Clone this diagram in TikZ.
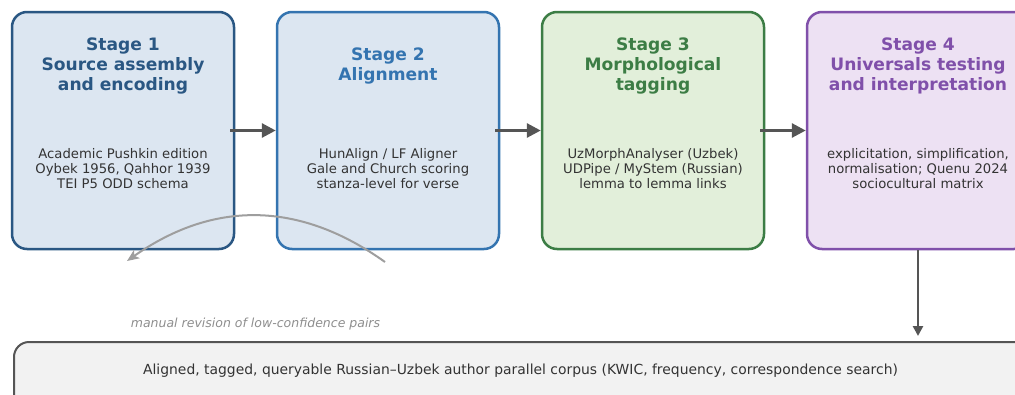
\documentclass[tikz,border=0pt]{standalone}
\usepackage{fontspec}
\setmainfont{DejaVu Sans}
\usetikzlibrary{arrows.meta,positioning,calc}

\definecolor{oneline}{HTML}{2A5783}
\definecolor{onefill}{HTML}{DCE6F1}
\definecolor{twoline}{HTML}{3474B0}
\definecolor{twofill}{HTML}{DCE6F1}
\definecolor{threeline}{HTML}{3C7D45}
\definecolor{threefill}{HTML}{E2EFDA}
\definecolor{fourline}{HTML}{8050AA}
\definecolor{fourfill}{HTML}{EDE1F3}
\definecolor{bodytext}{HTML}{333333}
\definecolor{flowgray}{HTML}{555555}
\definecolor{loopgray}{HTML}{9E9E9E}
\definecolor{outfill}{HTML}{F2F2F2}

\tikzset{
  stagebox/.style={draw, line width=2.5pt, rounded corners=15pt,
    minimum width=222pt, minimum height=237pt, inner sep=0pt},
  stagetitle/.style={font=\fontsize{17.1}{20}\selectfont\bfseries, align=center, inner sep=0pt},
  stagebody/.style={font=\fontsize{13.2}{15}\selectfont, text=bodytext, align=center, inner sep=0pt},
  flow/.style={draw=flowgray, line width=3pt, -{Triangle[length=14pt,width=14pt]}},
  downflow/.style={draw=flowgray, line width=2.5pt, -{Triangle[length=10pt,width=10pt]}},
  loop/.style={draw=loopgray, line width=2pt, -{Stealth[length=12pt,width=10pt,inset=3pt]}},
}

\begin{document}
\begin{tikzpicture}[x=1pt,y=-1pt]
\useasboundingbox (0,0) rectangle (1015,394);

% the four stages
\node[stagebox, draw=oneline, fill=onefill] (s1) at (123,130.5) {};
\node[stagebox, draw=twoline, fill=twofill] (s2) at (388,130.5) {};
\node[stagebox, draw=threeline, fill=threefill] (s3) at (653,130.5) {};
\node[stagebox, draw=fourline, fill=fourfill] (s4) at (918,130.5) {};

\node[stagetitle, text=oneline] (t1) at (123,65.5) {Stage 1\\Source assembly\\and encoding};
\node[stagetitle, text=twoline] (t2) at (388,65.5) {Stage 2\\Alignment};
\node[stagetitle, text=threeline] (t3) at (653,65.5) {Stage 3\\Morphological\\tagging};
\node[stagetitle, text=fourline] (t4) at (918,65.5) {Stage 4\\Universals testing\\and interpretation};

\node[stagebody] (b1) at (123,168.5) {Academic Pushkin edition\\Oybek 1956, Qahhor 1939\\TEI P5 ODD schema};
\node[stagebody] (b2) at (388,168.5) {HunAlign / LF Aligner\\Gale and Church scoring\\stanza-level for verse};
\node[stagebody] (b3) at (653,168.5) {UzMorphAnalyser (Uzbek)\\UDPipe / MyStem (Russian)\\lemma to lemma links};
\node[stagebody] (b4) at (918,168.5) {explicitation, simplification,\\normalisation; Quenu 2024\\sociocultural matrix};

% resulting corpus
\node[draw=flowgray, line width=2pt, fill=outfill, rounded corners=15pt,
      minimum width=1015pt, minimum height=70pt, inner sep=0pt] (out) at (521.5,377) {};
\node[font=\fontsize{13.9}{16}\selectfont, text=bodytext, inner sep=0pt] (outtext) at (520.5,371)
  {Aligned, tagged, queryable Russian–Uzbek author parallel corpus (KWIC, frequency, correspondence search)};

% pipeline connectors
\draw[flow] ([xshift=-5pt]s1.east) -- (s2.west);
\draw[flow] ([xshift=-5pt]s2.east) -- (s3.west);
\draw[flow] ([xshift=-5pt]s3.east) -- (s4.west);
\draw[downflow] (s4.south) -- ([yshift=5pt]s4.south |- out.north);

% feedback loop for manual revision
\coordinate (loopstart) at (385,262);
\coordinate (loopend) at (127,261);
\draw[loop] (loopstart) .. controls (299,200.5) and (213,200.5) .. (loopend);
\node[font=\fontsize{12.5}{14}\selectfont\itshape, text=loopgray!90!black, inner sep=0pt] (looplabel) at (255.5,324)
  {manual revision of low-confidence pairs};
\end{tikzpicture}
\end{document}
